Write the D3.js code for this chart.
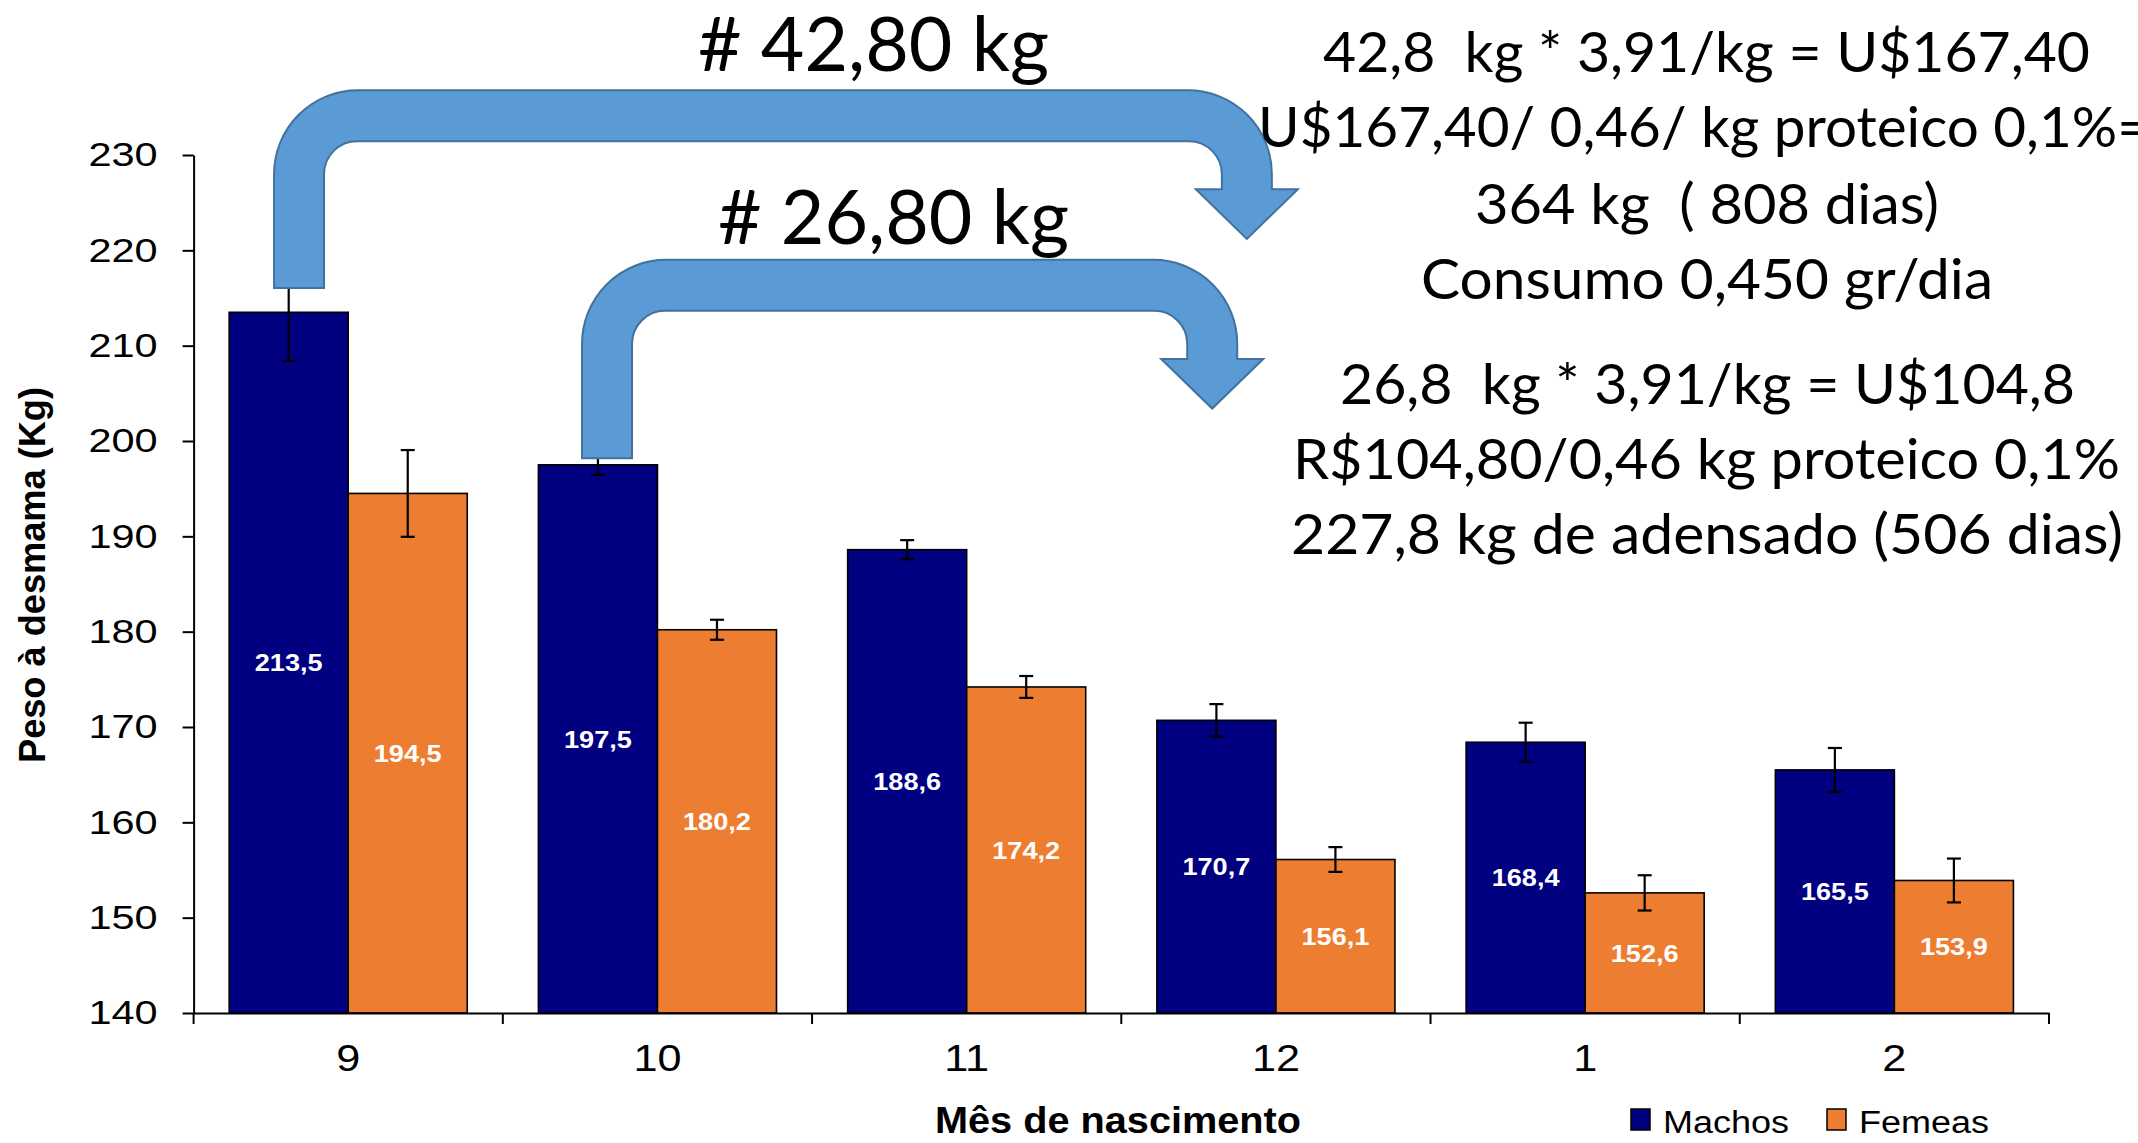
<!DOCTYPE html>
<html><head><meta charset="utf-8">
<script src="https://cdn.jsdelivr.net/npm/d3@7"></script>
<style>body{margin:0;background:#fff}svg{display:block}</style>
</head><body>
<script>
// ---------- data ----------
const categories = ["9","10","11","12","1","2"];
const seriesNames = ["Machos","Femeas"];
const machos = [213.5,197.5,188.6,170.7,168.4,165.5];
const femeas = [194.5,180.2,174.2,156.1,152.6,153.9];
const machosErr = [5.1,1.05,1.0,1.7,2.05,2.3];
const femeasErr = [4.55,1.05,1.15,1.3,1.85,2.3];
const yTicks = [140,150,160,170,180,190,200,210,220,230];
const yTitle = "Peso à desmama (Kg)";
const xTitle = "Mês de nascimento";
const arrowLabels = ["# 42,80 kg","# 26,80 kg"];
const arrowFrom = ["9","10"];
const arrowTo = ["12","12"];
const noteLines = [
  "42,8  kg * 3,91/kg = U$167,40",
  "U$167,40/ 0,46/ kg proteico 0,1%=",
  "364 kg  ( 808 dias)",
  "Consumo 0,450 gr/dia",
  "26,8  kg * 3,91/kg = U$104,8",
  "R$104,80/0,46 kg proteico 0,1%",
  "227,8 kg de adensado (506 dias)"
];

// ---------- setup ----------
const W = 2138, H = 1143;
const colors = {Machos:"#000080", Femeas:"#ED7D31"};
const svg = d3.select("body").append("svg").attr("width",W).attr("height",H);
svg.append("rect").attr("width",W).attr("height",H).attr("fill","#fff");
const chartFont = "'Liberation Sans', Arial, sans-serif";
const noteFont = "Lato, 'Open Sans', sans-serif";

const x = d3.scaleBand().domain(categories).range([193.6, 2049]).padding(0);
const xs = d3.scaleBand().domain(seriesNames).range([0, x.bandwidth()]).paddingInner(0).paddingOuter(0.299);
const y = d3.scaleLinear().domain([140,230]).range([1013,155]);
const fmt = v => d3.format(".1f")(v).replace(".", ",");

function stretch(sel, k){
  sel.each(function(){
    const w = this.getComputedTextLength();
    this.setAttribute("textLength", w*k);
    this.setAttribute("lengthAdjust","spacingAndGlyphs");
  });
}

const rows = categories.map((c,i)=>({cat:c, items:[
  {s:"Machos", v:machos[i], e:machosErr[i]},
  {s:"Femeas", v:femeas[i], e:femeasErr[i]}
]}));

// ---------- bars ----------
const g = svg.append("g");
const grp = g.selectAll("g.cat").data(rows).join("g").attr("class","cat")
  .attr("transform", d=>`translate(${x(d.cat)},0)`);
grp.selectAll("rect").data(d=>d.items).join("rect")
  .attr("x", d=>xs(d.s)).attr("width", xs.bandwidth())
  .attr("y", d=>y(d.v)).attr("height", d=>y(140)-y(d.v))
  .attr("fill", d=>colors[d.s]).attr("stroke","#000").attr("stroke-width",1.6);

// error bars
const eb = grp.selectAll("g.err").data(d=>d.items).join("g").attr("class","err")
  .attr("stroke","#000").attr("stroke-width",2.2);
eb.append("line").attr("x1",d=>xs(d.s)+xs.bandwidth()/2).attr("x2",d=>xs(d.s)+xs.bandwidth()/2)
  .attr("y1",d=>y(d.v+d.e)).attr("y2",d=>y(d.v-d.e));
eb.append("line").attr("x1",d=>xs(d.s)+xs.bandwidth()/2-7).attr("x2",d=>xs(d.s)+xs.bandwidth()/2+7)
  .attr("y1",d=>y(d.v+d.e)).attr("y2",d=>y(d.v+d.e));
eb.append("line").attr("x1",d=>xs(d.s)+xs.bandwidth()/2-7).attr("x2",d=>xs(d.s)+xs.bandwidth()/2+7)
  .attr("y1",d=>y(d.v-d.e)).attr("y2",d=>y(d.v-d.e));

// value labels
const vl = grp.selectAll("text.val").data(d=>d.items).join("text").attr("class","val")
  .attr("x", d=>xs(d.s)+xs.bandwidth()/2)
  .attr("y", d=>(y(d.v)+y(140))/2)
  .attr("dy","0.36em")
  .attr("text-anchor","middle").attr("fill","#fff")
  .attr("font-family",chartFont).attr("font-weight","bold").attr("font-size",24)
  .text(d=>fmt(d.v));
stretch(vl, 1.13);

// ---------- axes ----------
const yAxis = svg.append("g").attr("transform","translate(193.6,0)")
  .call(d3.axisLeft(y).tickValues(yTicks).tickSize(11).tickSizeOuter(0).tickPadding(25).tickFormat(d3.format("d")));
yAxis.select(".domain").attr("stroke","#000").attr("stroke-width",2);
yAxis.selectAll(".tick line").attr("stroke","#000").attr("stroke-width",2);
const yt = yAxis.selectAll(".tick text").attr("font-family",chartFont).attr("font-size",34).attr("fill","#000");
stretch(yt, 1.22);

const xAxis = svg.append("g").attr("transform",`translate(0,${y(140)})`)
  .call(d3.axisBottom(x).tickSize(0).tickPadding(32));
xAxis.select(".domain").attr("stroke","#000").attr("stroke-width",2);
const xt = xAxis.selectAll(".tick text").attr("font-family",chartFont).attr("font-size",36).attr("fill","#000");
stretch(xt, 1.2);
const bounds = categories.map(c=>x(c)).concat([x.range()[1]]);
xAxis.selectAll("line.bound").data(bounds).join("line").attr("class","bound")
  .attr("x1",d=>d).attr("x2",d=>d).attr("y1",0).attr("y2",11)
  .attr("stroke","#000").attr("stroke-width",2);

// axis titles
svg.append("text").attr("transform","translate(45,575) rotate(-90)")
  .attr("text-anchor","middle").attr("font-family",chartFont).attr("font-weight","bold")
  .attr("font-size",36).attr("textLength",376).attr("lengthAdjust","spacingAndGlyphs").text(yTitle);
svg.append("text").attr("x",1118).attr("y",1133)
  .attr("text-anchor","middle").attr("font-family",chartFont).attr("font-weight","bold")
  .attr("font-size",37).attr("textLength",366).attr("lengthAdjust","spacingAndGlyphs").text(xTitle);

// legend
const legX = [1631, 1827];
const leg = svg.append("g").selectAll("g").data(seriesNames).join("g")
  .attr("transform",(d,i)=>`translate(${legX[i]},0)`);
leg.append("rect").attr("x",0).attr("y",1109).attr("width",19).attr("height",21)
  .attr("fill",d=>colors[d]).attr("stroke","#000").attr("stroke-width",1.5);
const lt = leg.append("text").attr("x",32).attr("y",1133)
  .attr("font-family",chartFont).attr("font-size",31).attr("fill","#000").text(d=>d);
lt.attr("textLength",(d,i)=>[126,130][i]).attr("lengthAdjust","spacingAndGlyphs");

// ---------- bent arrows (annotation, placed through the scales) ----------
const arrowGeom = [
  {fromPos:0.341, toPos:0.406, baseVal:216.05, topVal:236.8, headVal:226.4, tipVal:221.2},
  {fromPos:0.337, toPos:0.294, baseVal:198.2,  topVal:219.0, headVal:208.6, tipVal:203.4}
];
function arrowPath(i){
  const a = arrowGeom[i];
  const T = 50, HW = 51, R = 84, r = 33;
  const sx = x(arrowFrom[i]) + a.fromPos*x.bandwidth();
  const tx = x(arrowTo[i]) + a.toPos*x.bandwidth();
  const xL = sx-T/2, xR = sx+T/2, xIL = tx-T/2, xOR = tx+T/2;
  const yB = y(a.baseVal), yT = y(a.topVal), yI = yT+T+1, yH = y(a.headVal), yTip = y(a.tipVal);
  return `M${xL},${yB} L${xL},${yT+R} A${R},${R} 0 0 1 ${xL+R},${yT} L${xOR-R},${yT} A${R},${R} 0 0 1 ${xOR},${yT+R} `+
    `L${xOR},${yH} L${tx+HW},${yH} L${tx},${yTip} L${tx-HW},${yH} L${xIL},${yH} L${xIL},${yI+r} `+
    `A${r},${r} 0 0 0 ${xIL-r},${yI} L${xR+r},${yI} A${r},${r} 0 0 0 ${xR},${yI+r} L${xR},${yB} Z`;
}
svg.append("g").selectAll("path").data(arrowGeom).join("path")
  .attr("d",(d,i)=>arrowPath(i)).attr("fill","#5B9BD5").attr("stroke","#41719C").attr("stroke-width",2);

// arrow labels
const alPos = [{x:698, y:71, len:351}, {x:718, y:244, len:351}];
svg.append("g").selectAll("text").data(arrowLabels).join("text")
  .attr("x",(d,i)=>alPos[i].x).attr("y",(d,i)=>alPos[i].y)
  .attr("font-family",noteFont).attr("font-size",76).attr("fill","#000")
  .attr("textLength",(d,i)=>alPos[i].len).attr("lengthAdjust","spacingAndGlyphs").text(d=>d);

// note block
const nlPos = [
  {x:1323,y:72,len:767},{x:1258,y:147,len:892},{x:1475,y:224,len:464},{x:1421,y:299,len:572},
  {x:1340,y:404,len:735},{x:1293,y:479,len:827},{x:1291,y:554,len:832}
];
svg.append("g").selectAll("text").data(noteLines).join("text")
  .attr("x",(d,i)=>nlPos[i].x).attr("y",(d,i)=>nlPos[i].y)
  .attr("xml:space","preserve").style("white-space","pre")
  .attr("font-family",noteFont).attr("font-size",57).attr("fill","#000")
  .attr("textLength",(d,i)=>nlPos[i].len).attr("lengthAdjust","spacingAndGlyphs").text(d=>d);
</script>
</body></html>
